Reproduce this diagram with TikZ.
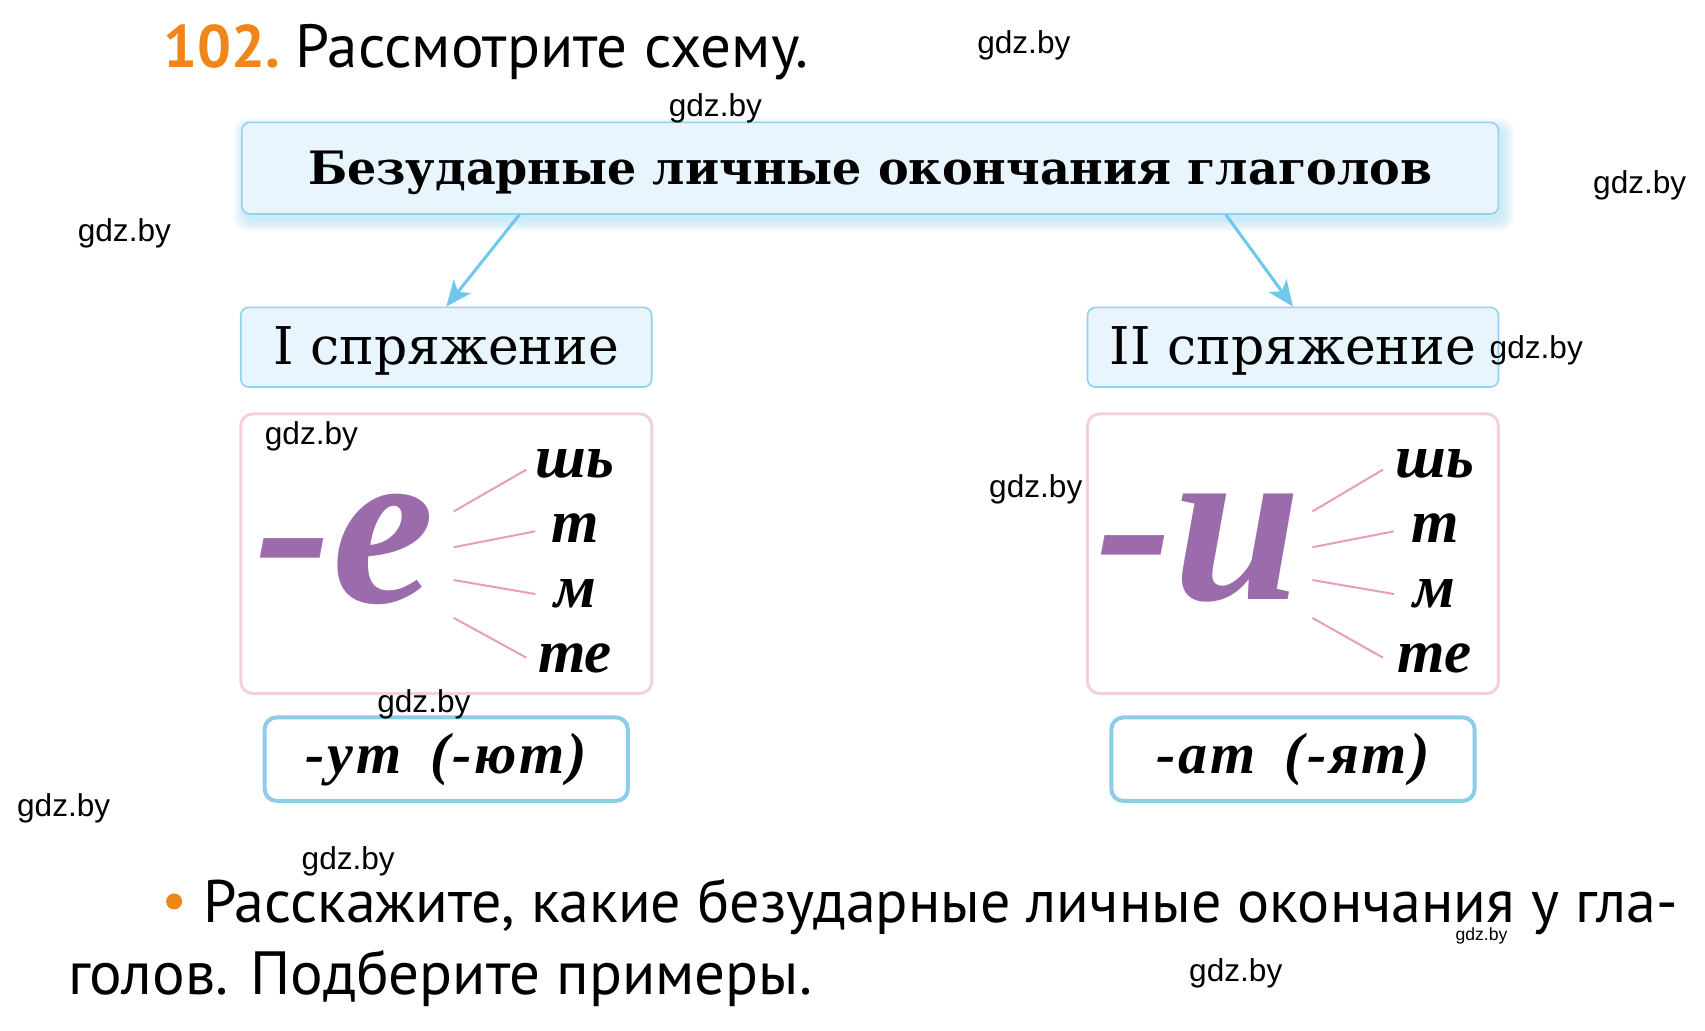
\documentclass[tikz,border=0pt]{standalone}
\usepackage{fontspec}
\setmainfont{PT Sans}
\newfontfamily\serifcyr{DejaVu Serif}
\newfontfamily\timescyr{Liberation Serif}
\newfontfamily\spacedcyr[LetterSpace=5]{Liberation Serif}
\newfontfamily\wmfont{Liberation Sans}
\usetikzlibrary{arrows.meta}
\definecolor{boxfill}{HTML}{E8F5FD}
\definecolor{boxblue}{HTML}{8FD3EE}
\definecolor{botblue}{HTML}{8ECDE9}
\definecolor{pinkborder}{HTML}{F4CFE1}
\definecolor{pinkline}{HTML}{E79CC3}
\definecolor{arrblue}{HTML}{6FC7EE}
\definecolor{purp}{HTML}{9C6BAC}
\definecolor{orng}{HTML}{F08519}
\definecolor{shadowblue}{HTML}{A9DDF3}
\begin{document}
\begin{tikzpicture}[x=0.4975pt,y=-0.4975pt,
  lb/.style={draw=boxblue, fill=boxfill, rounded corners=4pt, line width=0.8pt, inner sep=0pt},
  pinkbox/.style={draw=pinkborder, fill=white, rounded corners=6pt, line width=1.5pt, inner sep=0pt},
  botbox/.style={draw=botblue, fill=white, rounded corners=6pt, line width=2pt, inner sep=0pt,
     font=\spacedcyr\bfseries\itshape\fontsize{29}{30}\selectfont},
  bigletter/.style={inner sep=0pt, text height=56pt, text depth=0pt, text=purp,
     font=\timescyr\bfseries\itshape\fontsize{115}{117}\selectfont},
  ending/.style={inner sep=0pt, font=\timescyr\bfseries\itshape\fontsize{30.5}{32}\selectfont},
  pl/.style={draw=pinkline, line width=1pt},
  arr/.style={draw=arrblue, line width=1.5pt, -{Stealth[length=13pt,width=11pt,inset=3.5pt]}},
  wm/.style={inner sep=0pt, font=\wmfont\fontsize{15.8}{16}\selectfont},
  body/.style={inner sep=0pt, font=\fontsize{30.5}{32}\selectfont}
]
\useasboundingbox (0,0) rectangle (1713.6,1036.2);
\fill[white] (0,0) rectangle (1713.6,1036.2);

% heading
\node[body, anchor=base west, text=orng, font=\bfseries\fontsize{30}{32}\selectfont] (num) at (164,68) {102.};
\node[body, anchor=base west, font=\fontsize{30.5}{32}\selectfont] (head) at (297,68) {Рассмотрите схему.};

% soft shadow of the top box
\foreach \k in {1,...,6}
  \fill[shadowblue, opacity=0.12, rounded corners=6pt] (247-2*\k,131-2*\k) rectangle (1509+2*\k,220+2*\k);

% top box
\node[lb, minimum width=628.3pt, minimum height=45.8pt,
  font=\serifcyr\bfseries\fontsize{23}{25}\selectfont] (top) at (874.5,169)
  {\raisebox{-2.5pt}[\height][\depth]{Безударные личные окончания глаголов}};

% conjugation boxes
\node[lb, minimum width=205.5pt, minimum height=39.8pt, font=\serifcyr\fontsize{26}{28}\selectfont] (b1) at (448.5,349)
  {\raisebox{-2pt}[\height][\depth]{I спряжение}};
\node[lb, minimum width=205.5pt, minimum height=39.8pt, font=\serifcyr\fontsize{26}{28}\selectfont] (b2) at (1299.5,349)
  {\raisebox{-2pt}[\height][\depth]{II спряжение}};

\draw[arr] ([xshift=-175.4pt]top.south) -- (b1.north);
\draw[arr] ([xshift=177.9pt]top.south) -- (b2.north);

% pink boxes
\node[pinkbox, minimum width=205.5pt, minimum height=139.8pt] (p1) at (448.5,556.5) {};
\node[pinkbox, minimum width=205.5pt, minimum height=139.8pt] (p2) at (1299.5,556.5) {};

\node[bigletter, anchor=base] (e) at (347,606) {-е};
\node[bigletter, anchor=base] (i) at (1205,603) {-и};

\node[ending, anchor=base] (l1) at (578,480) {шь};
\node[ending, anchor=base] (l2) at (578,545) {т};
\node[ending, anchor=base] (l3) at (578,611) {м};
\node[ending, anchor=base] (l4) at (578,676) {те};
\node[ending, anchor=base] (r1) at (1442,480) {шь};
\node[ending, anchor=base] (r2) at (1442,545) {т};
\node[ending, anchor=base] (r3) at (1442,611) {м};
\node[ending, anchor=base] (r4) at (1442,676) {те};

\coordinate (ls1) at (456,514); \coordinate (le1) at (529,472);
\coordinate (ls2) at (456,550); \coordinate (le2) at (538,534);
\coordinate (ls3) at (456,583); \coordinate (le3) at (538,597);
\coordinate (ls4) at (456,621); \coordinate (le4) at (529,661);
\coordinate (rs1) at (1319,514); \coordinate (re1) at (1390,472);
\coordinate (rs2) at (1319,550); \coordinate (re2) at (1401,534);
\coordinate (rs3) at (1319,583); \coordinate (re3) at (1401,597);
\coordinate (rs4) at (1319,621); \coordinate (re4) at (1390,661);
\foreach \s/\e in {ls1/le1,ls2/le2,ls3/le3,ls4/le4,rs1/re1,rs2/re2,rs3/re3,rs4/re4}
  \draw[pl] (\s) -- (\e);

% bottom boxes
\node[botbox, minimum width=181.6pt, minimum height=41.8pt] (u1) at (448.5,763) {-ут\hspace{0.2em} (-ют)};
\node[botbox, minimum width=181.6pt, minimum height=41.8pt] (u2) at (1299.5,763) {-ат\hspace{0.2em} (-ят)};

% question
\fill[orng] (175,906) circle (4pt);
\node[body, anchor=base west, text depth=0pt, font=\fontsize{30}{32}\selectfont] (q1) at (204,927) {Расскажите, какие безударные личные окончания у гла-};
\node[body, anchor=base west] (q2) at (68,1000) {голов. Подберите примеры.};

% watermarks
\node[wm] (w1) at (1029,46) {gdz.by};
\node[wm] (w2) at (719,109) {gdz.by};
\node[wm] (w3) at (1648,186) {gdz.by};
\node[wm] (w4) at (125,235) {gdz.by};
\node[wm] (w5) at (1544,352) {gdz.by};
\node[wm] (w6) at (313,439) {gdz.by};
\node[wm] (w7) at (1041,492) {gdz.by};
\node[wm] (w8) at (426,708) {gdz.by};
\node[wm] (w9) at (64,812) {gdz.by};
\node[wm] (w10) at (350,866) {gdz.by};
\node[wm, font=\wmfont\fontsize{8.8}{9}\selectfont] (w11) at (1489,941) {gdz.by};
\node[wm] (w12) at (1242,978) {gdz.by};
\end{tikzpicture}
\end{document}
